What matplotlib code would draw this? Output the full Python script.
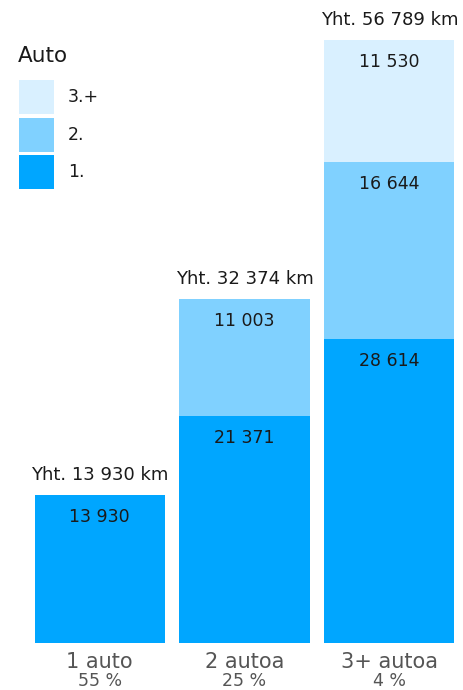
import matplotlib.pyplot as plt
from matplotlib.patches import Rectangle

# Data
categories = ["1 auto", "2 autoa", "3+ autoa"]
shares = ["55 %", "25 %", "4 %"]
series_names = ["1.", "2.", "3.+"]
car1 = [13930, 21371, 28614]
car2 = [0, 11003, 16644]
car3 = [0, 0, 11530]
totals = [13930, 32374, 56789]

colors = ["#00a6ff", "#80d1ff", "#d9f0ff"]


def fmt(v):
    return f"{v:,}".replace(",", " ")


W, H = 464, 690
fig = plt.figure(figsize=(W / 100, H / 100), dpi=100)
ax = fig.add_axes([0.059, 0.0681, 0.936, 0.8739])

x = range(len(categories))
bottom = [0] * len(categories)
for vals, col in zip([car1, car2, car3], colors):
    ax.bar(x, vals, width=0.9, bottom=bottom, color=col, linewidth=0)
    for i, v in enumerate(vals):
        if v > 0:
            ax.annotate(fmt(v), (i, bottom[i] + v), xytext=(0, -22),
                        textcoords="offset pixels", ha="center", va="center",
                        fontsize=12.5, color="#1a1a1a")
    bottom = [b + v for b, v in zip(bottom, vals)]

for i, t in enumerate(totals):
    ax.annotate(f"Yht. {fmt(t)} km", (i, t), xytext=(0, 20),
                textcoords="offset pixels", ha="center", va="center",
                fontsize=13, color="#1a1a1a", annotation_clip=False)

ax.set_xlim(-0.5, 2.5)
ax.set_ylim(0, 56789)
ax.set_xticks([])
ax.set_yticks([])
for i, (c, s) in enumerate(zip(categories, shares)):
    ax.annotate(c, (i, 0), xytext=(0, -19), textcoords="offset pixels",
                ha="center", va="center", fontsize=15, color="#555555",
                annotation_clip=False)
    ax.annotate(s, (i, 0), xytext=(0, -38), textcoords="offset pixels",
                ha="center", va="center", fontsize=12.5, color="#555555",
                annotation_clip=False)
for sp in ax.spines.values():
    sp.set_visible(False)

# legend drawn by hand (pixel positions from the top-left corner)
fig.text(18 / W, 1 - 56 / H, "Auto", fontsize=15.5, color="#1a1a1a",
         ha="left", va="center")
leg_tops = [80, 118, 155]
for top, col, name in zip(leg_tops, colors[::-1], series_names[::-1]):
    fig.patches.append(Rectangle((19 / W, 1 - (top + 34) / H), 35 / W, 34 / H,
                                 transform=fig.transFigure, color=col,
                                 linewidth=0))
    fig.text(68 / W, 1 - (top + 17) / H, name, fontsize=12.5, color="#1a1a1a",
             ha="left", va="center")

fig.savefig("out.png", dpi=100)
